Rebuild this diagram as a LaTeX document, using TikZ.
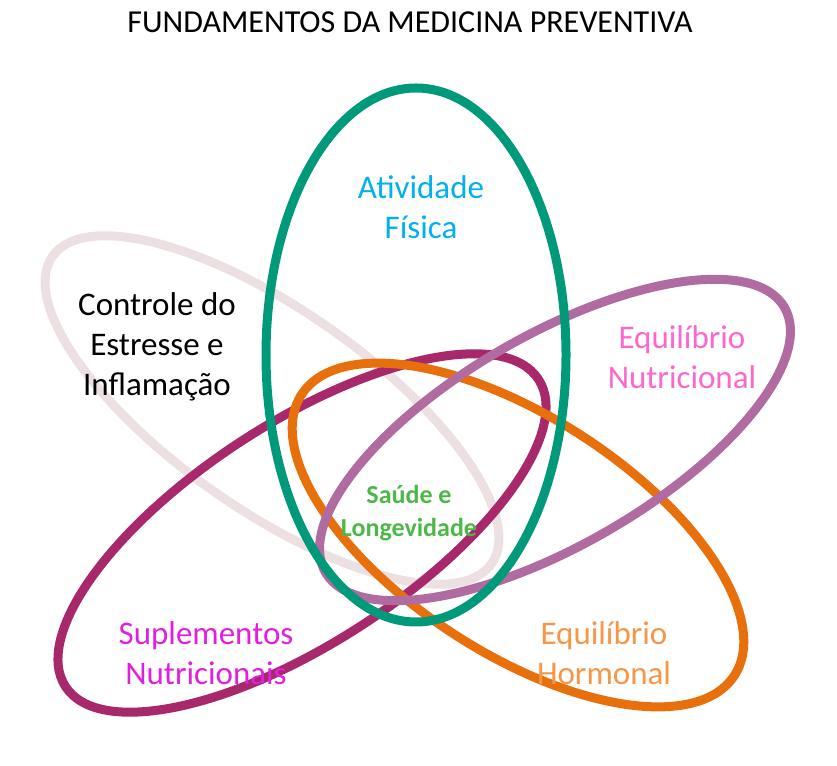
\documentclass[tikz,border=0pt]{standalone}
\usepackage{fontspec}
\setmainfont{Carlito}
\definecolor{paleRose}{HTML}{EDE0E2}
\definecolor{wine}{HTML}{A8286C}
\definecolor{mauve}{HTML}{B06CA0}
\definecolor{orangeH}{HTML}{E8700C}
\definecolor{teal}{HTML}{00997A}
\definecolor{skyText}{HTML}{00B0F0}
\definecolor{pinkText}{HTML}{FF66CC}
\definecolor{violetText}{HTML}{E020E0}
\definecolor{orangeText}{HTML}{F79646}
\definecolor{greenText}{HTML}{4CB848}
\begin{document}
\begin{tikzpicture}[x=1pt,y=1pt]
			\tikzset{
				ring/.style={line width=9pt},
				label/.style={align=center, font=\fontsize{33}{40}\selectfont},
			}
			\useasboundingbox (0,0) rectangle (837,765);
			\node[font=\fontsize{32}{40}\selectfont](title) at (410,743){FUNDAMENTOS DA MEDICINA PREVENTIVA};
			%rings
			\draw[ring, paleRose] (272,355) ellipse [x radius=268, y radius=100, rotate=-35];
			\draw[ring, wine] (302,232) ellipse [x radius=282, y radius=110, rotate=33];
			\draw[ring, orangeH] (518,230) ellipse [x radius=258, y radius=118, rotate=-33];
			\draw[ring, mauve] (555,325) ellipse [x radius=265, y radius=105, rotate=30];
			\draw[ring, teal] (416,410) ellipse [x radius=150, y radius=267];
			%labels
			\node[label, text=skyText](fisica) at (421,558){Atividade\\Física};
			\node[label](estresse) at (157,418){Controle do\\Estresse e\\Inflamação};
			\node[label, text=pinkText](nutri) at (682,408){Equilíbrio\\Nutricional};
			\node[label, text=greenText, font=\bfseries\fontsize{26}{33}\selectfont](saude) at (409,252){Saúde e\\Longevidade};
			\node[label, text=violetText](suple) at (206,112){Suplementos\\Nutricionais};
			\node[label, text=orangeText](hormonal) at (604,112){Equilíbrio\\Hormonal};
		\end{tikzpicture}
\end{document}
